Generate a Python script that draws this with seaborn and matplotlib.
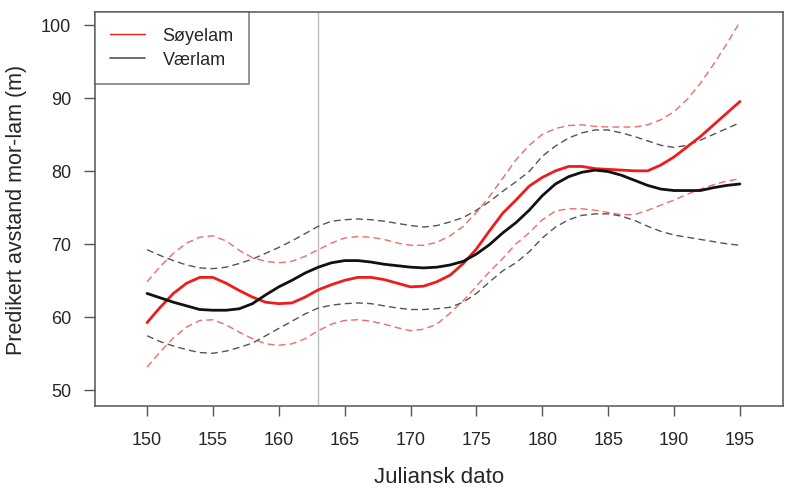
import pandas as pd
import matplotlib
matplotlib.use("Agg")
import matplotlib.pyplot as plt
import seaborn as sns
from matplotlib.lines import Line2D

# Predikert avstand mellom mor og lam gjennom sesongen

dager = list(range(150, 196))

soyelam = [59.2, 61.3, 63.2, 64.6, 65.4, 65.4, 64.6, 63.6, 62.7, 62.0,
           61.8, 61.9, 62.7, 63.7, 64.4, 65.0, 65.4, 65.4, 65.1, 64.6,
           64.1, 64.2, 64.8, 65.7, 67.3, 69.3, 71.8, 74.2, 76.0, 77.9,
           79.1, 80.0, 80.6, 80.6, 80.3, 80.2, 80.1, 80.0, 80.0, 80.8,
           81.9, 83.3, 84.7, 86.3, 87.9, 89.5]
soyelam_ovre = [64.8, 66.9, 68.7, 70.1, 70.9, 71.1, 70.4, 69.1, 68.1, 67.6,
                67.4, 67.6, 68.3, 69.2, 70.1, 70.8, 71.0, 70.9, 70.6, 70.1,
                69.8, 69.8, 70.2, 71.1, 72.4, 74.3, 76.5, 79.0, 81.5, 83.5,
                85.0, 85.8, 86.2, 86.3, 86.1, 86.0, 86.0, 86.0, 86.3, 87.0,
                88.1, 89.8, 92.0, 94.6, 97.4, 100.4]
soyelam_nedre = [53.1, 55.2, 57.1, 58.6, 59.5, 59.6, 58.9, 57.9, 57.0, 56.3,
                 56.1, 56.3, 57.0, 58.1, 59.0, 59.5, 59.6, 59.4, 59.0, 58.5,
                 58.1, 58.3, 59.0, 60.5, 62.2, 64.2, 66.2, 68.0, 70.0, 71.5,
                 73.3, 74.5, 74.8, 74.8, 74.6, 74.3, 74.0, 74.0, 74.6, 75.3,
                 76.0, 76.8, 77.5, 78.1, 78.6, 78.9]

verlam = [63.2, 62.6, 62.0, 61.5, 61.0, 60.9, 60.9, 61.1, 61.8, 63.0,
          64.1, 65.0, 66.0, 66.8, 67.4, 67.7, 67.7, 67.5, 67.2, 67.0,
          66.8, 66.7, 66.8, 67.1, 67.6, 68.6, 69.9, 71.5, 72.9, 74.6,
          76.6, 78.2, 79.2, 79.8, 80.1, 79.9, 79.4, 78.7, 78.0, 77.5,
          77.3, 77.3, 77.3, 77.7, 78.0, 78.2]
verlam_ovre = [69.2, 68.4, 67.7, 67.1, 66.7, 66.6, 66.8, 67.3, 67.9, 68.7,
               69.5, 70.4, 71.4, 72.4, 73.1, 73.3, 73.4, 73.3, 73.1, 72.8,
               72.5, 72.3, 72.5, 73.0, 73.6, 74.6, 75.8, 77.2, 78.5, 79.9,
               82.0, 83.4, 84.5, 85.2, 85.6, 85.6, 85.2, 84.7, 84.1, 83.5,
               83.2, 83.5, 84.2, 85.0, 85.8, 86.6]
verlam_nedre = [57.4, 56.6, 56.0, 55.5, 55.1, 55.0, 55.3, 55.8, 56.4, 57.4,
                58.4, 59.4, 60.4, 61.2, 61.6, 61.8, 61.9, 61.8, 61.5, 61.2,
                61.0, 61.0, 61.1, 61.3, 62.0, 63.2, 64.8, 66.3, 67.4, 68.9,
                70.8, 72.3, 73.3, 73.9, 74.1, 74.1, 73.8, 73.2, 72.4, 71.7,
                71.2, 70.9, 70.6, 70.3, 70.0, 69.8]

skille_dag = 163
x_ticks = list(range(150, 200, 5))
y_ticks = [50, 60, 70, 80, 90, 100]

df = pd.DataFrame({
    "dag": dager,
    "soyelam": soyelam, "soyelam_ovre": soyelam_ovre, "soyelam_nedre": soyelam_nedre,
    "verlam": verlam, "verlam_ovre": verlam_ovre, "verlam_nedre": verlam_nedre,
})

sns.set_style("white")
plt.rcParams["font.family"] = ["Liberation Sans", "DejaVu Sans"]
tekst = "#262626"

fig = plt.figure(figsize=(7.85, 4.89), dpi=100)
ax = fig.add_axes([0.121, 0.168, 0.877, 0.806])

rod_lys = "#f36a6a"
gra = "#555555"

# konfidensintervall
for kol, farge in [("soyelam_ovre", rod_lys), ("soyelam_nedre", rod_lys),
                   ("verlam_ovre", gra), ("verlam_nedre", gra)]:
    sns.lineplot(data=df, x="dag", y=kol, ax=ax, color=farge, lw=1.0,
                 dashes=False, linestyle=(0, (5, 3)))

sns.lineplot(data=df, x="dag", y="soyelam", ax=ax, color="#ee1c1c", lw=2.0)
sns.lineplot(data=df, x="dag", y="verlam", ax=ax, color="#111111", lw=2.0)

ax.axvline(skille_dag, color="#bdbdbd", lw=1.0, zorder=0)

ax.set_xlim(146.05, 198.3)
ax.set_ylim(47.8, 101.8)
ax.set_xticks(x_ticks)
ax.set_yticks(y_ticks)
ax.tick_params(axis="x", bottom=True, length=7, width=1, color=gra,
               pad=11, labelsize=13, labelcolor=tekst)
ax.tick_params(axis="y", left=True, length=8, width=1, color=gra,
               pad=9, labelsize=13, labelcolor=tekst)
for sp in ax.spines.values():
    sp.set_color(gra)
    sp.set_linewidth(1.1)

ax.set_xlabel("Juliansk dato", fontsize=16, color=tekst, labelpad=13)
ax.set_ylabel("Predikert avstand mor-lam (m)", fontsize=15.5, color=tekst, labelpad=10)

handles = [Line2D([], [], color="#ee1c1c", lw=1.0),
           Line2D([], [], color=gra, lw=1.2)]
leg = ax.legend(handles, ["Søyelam", "Værlam"], loc="upper left",
                bbox_to_anchor=(0, 1), borderaxespad=0, fancybox=False,
                frameon=True, fontsize=13, handlelength=1.9, handletextpad=1.0,
                borderpad=0.85, labelspacing=0.4, labelcolor=tekst)
leg.get_frame().set_edgecolor(gra)
leg.get_frame().set_linewidth(1.1)

plt.savefig("out.png", dpi=100)
